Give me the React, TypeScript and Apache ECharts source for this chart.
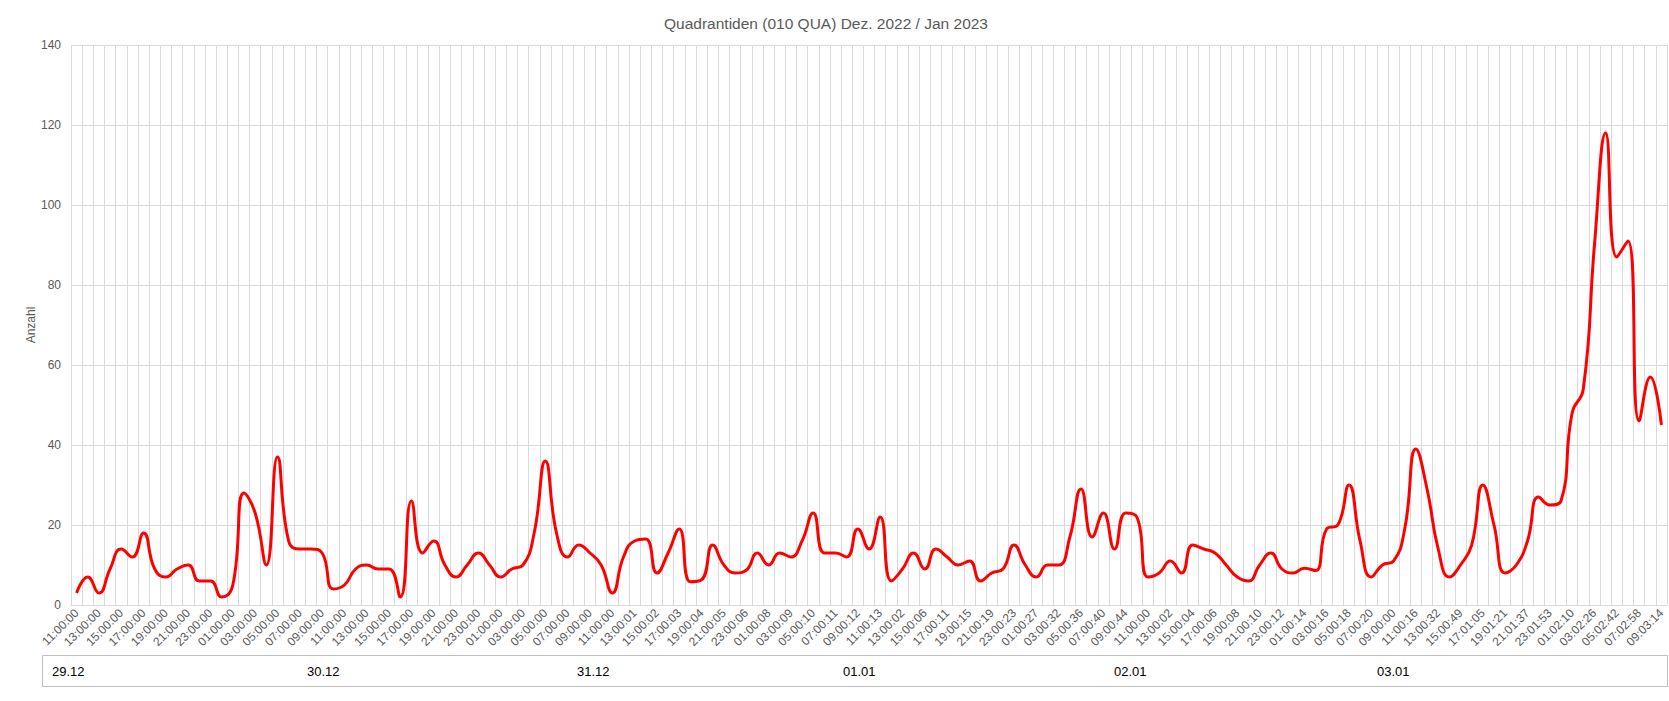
import React, { useEffect, useRef } from "react";
import * as echarts from "echarts";

const titleText = "Quadrantiden (010 QUA) Dez. 2022 / Jan 2023";
const yAxisName = "Anzahl";

// visible (every second) time labels
const shownTimes = [
  "11:00:00", "13:00:00", "15:00:00", "17:00:00", "19:00:00", "21:00:00", "23:00:00",
  "01:00:00", "03:00:00", "05:00:00", "07:00:00", "09:00:00", "11:00:00", "13:00:00",
  "15:00:00", "17:00:00", "19:00:00", "21:00:00", "23:00:00", "01:00:00", "03:00:00",
  "05:00:00", "07:00:00", "09:00:00", "11:00:00", "13:00:01", "15:00:02", "17:00:03",
  "19:00:04", "21:00:05", "23:00:06", "01:00:08", "03:00:09", "05:00:10", "07:00:11",
  "09:00:12", "11:00:13", "13:00:02", "15:00:06", "17:00:11", "19:00:15", "21:00:19",
  "23:00:23", "01:00:27", "03:00:32", "05:00:36", "07:00:40", "09:00:44", "11:00:00",
  "13:00:02", "15:00:04", "17:00:06", "19:00:08", "21:00:10", "23:00:12", "01:00:14",
  "03:00:16", "05:00:18", "07:00:20", "09:00:00", "11:00:16", "13:00:32", "15:00:49",
  "17:01:05", "19:01:21", "21:01:37", "23:01:53", "01:02:10", "03:02:26", "05:02:42",
  "07:02:58", "09:03:14",
];

const counts = [
  3, 7, 3, 9, 14, 12, 18, 9, 7, 9,
  10, 6, 6, 2, 5, 28, 23, 10, 37, 16,
  14, 14, 13, 4, 5, 9, 10, 9, 9, 2,
  26, 13, 16, 10, 7, 10, 13, 10, 7, 9,
  10, 18, 36, 18, 12, 15, 13, 10, 3, 12,
  16, 16.5, 8, 13, 19, 5.8, 6.3, 15, 10, 8,
  8.7, 13, 10, 13, 12, 16, 23, 13, 13, 12,
  19, 14, 22, 6, 9, 13, 9, 14, 12, 10,
  11, 6, 8, 9, 15, 10, 7, 10, 10, 17,
  29, 17, 23, 14, 23, 22, 7, 8, 11, 8,
  15, 14, 13, 10, 7, 6, 10, 13, 9, 8,
  9.2, 8.6, 19, 20, 30, 16, 7, 10, 11, 19,
  39, 29, 14, 7, 10, 15, 30, 20, 8, 10,
  16, 27, 25, 26, 48, 54, 90, 118, 87, 91,
  46, 57, 45,
];

const dateLabels = ["29.12", "30.12", "31.12", "01.01", "02.01", "03.01"];
const dateLabelX = [52, 307, 577, 843, 1114, 1377];

// full hourly category list: hidden odd entries are the hour in between
const categories: string[] = [];
shownTimes.forEach((t, k) => {
  categories.push(t);
  if (k < shownTimes.length - 1) {
    const h = (parseInt(t.slice(0, 2), 10) + 1) % 24;
    categories.push(String(h).padStart(2, "0") + t.slice(2));
  }
});

const FONT = "Liberation Sans, Arial, sans-serif";

export default function App() {
  const ref = useRef<HTMLDivElement>(null);
  useEffect(() => {
    document.body.style.margin = "0";
    const chart = echarts.init(ref.current!, null, { renderer: "svg" });
    chart.setOption({
      animation: false,
      backgroundColor: "#ffffff",
      title: {
        text: titleText,
        left: 821,
        top: 10,
        textAlign: "center",
        textStyle: { fontFamily: FONT, fontSize: 15.5, fontWeight: "normal", color: "#595959" },
      },
      grid: { left: 71, right: 2, top: 45, bottom: 96 },
      xAxis: {
        type: "category",
        data: categories,
        boundaryGap: true,
        axisLine: { show: true, lineStyle: { color: "#d9d9d9", width: 1 } },
        axisTick: { show: false },
        axisLabel: {
          interval: 1,
          rotate: 45,
          margin: 6,
          fontFamily: FONT,
          fontSize: 12,
          color: "#595959",
        },
        splitLine: { show: true, interval: 0, lineStyle: { color: "#d9d9d9", width: 1 } },
      },
      yAxis: {
        type: "value",
        min: 0,
        max: 140,
        interval: 20,
        name: yAxisName,
        nameLocation: "middle",
        nameRotate: 90,
        nameGap: 34,
        nameMoveOverlap: false,
        nameTextStyle: { fontFamily: FONT, fontSize: 12, color: "#595959" },
        axisLine: { show: false },
        axisTick: { show: false },
        axisLabel: { fontFamily: FONT, fontSize: 12, color: "#595959", margin: 10 },
        splitLine: { show: true, lineStyle: { color: "#d9d9d9", width: 1 } },
      },
      series: [
        {
          type: "line",
          data: counts,
          smooth: 0.5,
          showSymbol: false,
          symbol: "none",
          lineStyle: { color: "#ff0000", width: 3 },
          itemStyle: { color: "#ff0000" },
        },
      ],
      graphic: [
        {
          type: "rect",
          shape: { x: 42.5, y: 655.5, width: 1625, height: 31 },
          style: { fill: "none", stroke: "#bfbfbf", lineWidth: 1 },
          silent: true,
        },
        ...dateLabels.map((d, i) => ({
          type: "text",
          x: dateLabelX[i],
          y: 671,
          style: {
            text: d,
            fontFamily: FONT,
            fontSize: 13,
            fill: "#000000",
            verticalAlign: "middle",
            align: "left",
          },
          silent: true,
        })),
      ],
    });
    return () => chart.dispose();
  }, []);
  return (
    <div
      ref={ref}
      style={{ position: "fixed", left: 0, top: 0, width: 1669, height: 701, background: "#fff" }}
    />
  );
}
